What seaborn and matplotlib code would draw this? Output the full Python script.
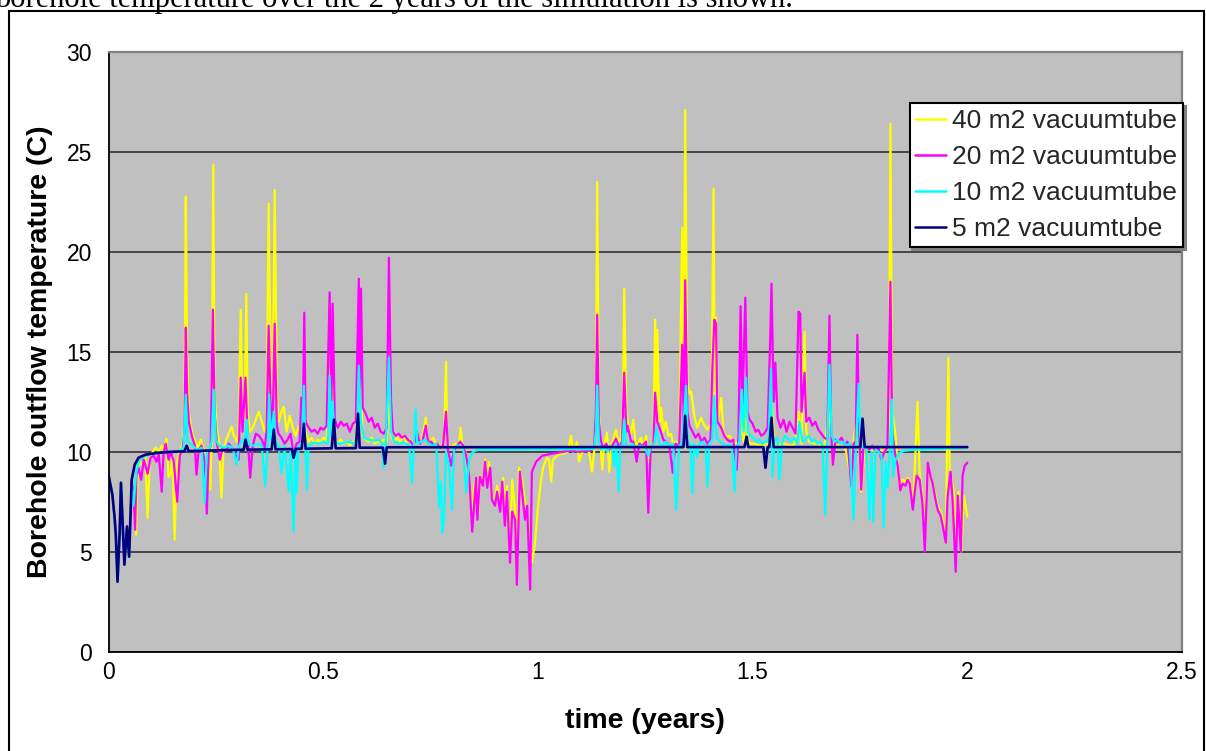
import matplotlib
matplotlib.use("Agg")
import matplotlib.pyplot as plt
from matplotlib.patches import Rectangle
import seaborn as sns

# ---------------- data ----------------
labels = ["40 m2 vacuumtube", "20 m2 vacuumtube", "10 m2 vacuumtube", "5 m2 vacuumtube"]
colors = ["#FFFF00", "#FF00FF", "#00FFFF", "#000080"]
x_ticks = [0, 0.5, 1, 1.5, 2, 2.5]
x_ticklabels = ["0", "0.5", "1", "1.5", "2", "2.5"]
y_ticks = [0, 5, 10, 15, 20, 25, 30]

# 40 m2 vacuumtube (yellow)
t40 = [0.000, 0.009, 0.014, 0.017, 0.021, 0.026, 0.029, 0.037, 0.043, 0.048,
       0.054, 0.058, 0.064, 0.068, 0.072, 0.079, 0.086, 0.091, 0.096, 0.103,
       0.110, 0.117, 0.124, 0.128, 0.135, 0.140, 0.145, 0.149, 0.154, 0.159,
       0.166, 0.173, 0.177, 0.180, 0.183, 0.187, 0.194, 0.201, 0.208, 0.215,
       0.222, 0.229, 0.237, 0.240, 0.244, 0.247, 0.252, 0.257, 0.263, 0.268,
       0.273, 0.278, 0.282, 0.287, 0.292, 0.299, 0.303, 0.308, 0.312, 0.317,
       0.321, 0.324, 0.329, 0.336, 0.343, 0.350, 0.357, 0.364, 0.368, 0.373,
       0.378, 0.382, 0.387, 0.392, 0.396, 0.403, 0.408, 0.415, 0.422, 0.429,
       0.436, 0.443, 0.450, 0.456, 0.459, 0.466, 0.473, 0.480, 0.487, 0.494,
       0.501, 0.508, 0.515, 0.519, 0.522, 0.527, 0.534, 0.541, 0.548, 0.555,
       0.562, 0.569, 0.576, 0.583, 0.588, 0.592, 0.599, 0.606, 0.613, 0.620,
       0.627, 0.634, 0.641, 0.648, 0.653, 0.658, 0.665, 0.672, 0.679, 0.686,
       0.693, 0.700, 0.707, 0.714, 0.721, 0.728, 0.735, 0.739, 0.743, 0.749,
       0.756, 0.763, 0.770, 0.777, 0.782, 0.786, 0.789, 0.795, 0.802, 0.809,
       0.816, 0.820, 0.824, 0.830, 0.835, 0.840, 0.847, 0.851, 0.856, 0.861,
       0.865, 0.872, 0.877, 0.882, 0.886, 0.893, 0.900, 0.905, 0.912, 0.919,
       0.923, 0.928, 0.935, 0.940, 0.947, 0.951, 0.956, 0.963, 0.970, 0.975,
       0.982, 0.986, 0.993, 1.000, 1.007, 1.012, 1.017, 1.021, 1.026, 1.031,
       1.035, 1.042, 1.049, 1.061, 1.070, 1.077, 1.082, 1.091, 1.096, 1.103,
       1.112, 1.119, 1.126, 1.131, 1.135, 1.138, 1.142, 1.147, 1.150, 1.154,
       1.161, 1.166, 1.171, 1.175, 1.182, 1.187, 1.193, 1.198, 1.201, 1.206,
       1.209, 1.217, 1.222, 1.227, 1.231, 1.240, 1.245, 1.252, 1.257, 1.263,
       1.269, 1.273, 1.276, 1.278, 1.283, 1.287, 1.292, 1.298, 1.304, 1.310,
       1.315, 1.322, 1.329, 1.336, 1.340, 1.343, 1.348, 1.353, 1.357, 1.364,
       1.371, 1.380, 1.388, 1.395, 1.399, 1.404, 1.409, 1.412, 1.415, 1.419,
       1.427, 1.432, 1.439, 1.446, 1.453, 1.460, 1.467, 1.472, 1.479, 1.483,
       1.488, 1.495, 1.504, 1.516, 1.527, 1.539, 1.544, 1.551, 1.562, 1.574,
       1.586, 1.597, 1.607, 1.614, 1.621, 1.625, 1.632, 1.644, 1.656, 1.667,
       1.679, 1.686, 1.702, 1.716, 1.727, 1.733, 1.744, 1.753, 1.761, 1.772,
       1.784, 1.796, 1.807, 1.817, 1.821, 1.825, 1.832, 1.838, 1.844, 1.849,
       1.856, 1.861, 1.866, 1.873, 1.877, 1.884, 1.889, 1.896, 1.901, 1.908,
       1.915, 1.919, 1.926, 1.931, 1.938, 1.943, 1.950, 1.956, 1.959, 1.968,
       1.975, 1.980, 1.986, 1.992, 2.000]
v40 = [8.85, 7.85, 6.75, 5.9, 3.6, 6.0, 8.4, 4.4, 6.3, 4.8,
       8.6, 7.5, 5.85, 9.0, 9.5, 9.3, 9.7, 6.7, 9.6, 10.0,
       10.2, 10.0, 10.3, 10.0, 10.65, 8.75, 8.9, 9.8, 5.6, 9.5,
       10.0, 10.4, 11.5, 22.75, 15.0, 12.0, 11.0, 10.6, 10.2, 10.6,
       10.1, 9.8, 8.1, 10.5, 24.35, 13.0, 11.2, 10.6, 7.7, 10.2,
       10.5, 10.8, 11.0, 11.25, 10.8, 10.5, 11.0, 17.1, 11.5, 11.8,
       17.9, 12.0, 11.0, 11.2, 11.6, 12.0, 11.5, 11.0, 11.5, 22.4,
       14.0, 12.5, 23.1, 13.0, 11.5, 12.0, 12.25, 11.0, 11.8, 11.2,
       10.8, 11.3, 10.6, 12.0, 11.0, 10.5, 10.7, 10.4, 10.6, 10.5,
       10.7, 10.5, 15.0, 11.0, 13.5, 10.6, 10.4, 10.6, 10.4, 10.5,
       10.3, 10.5, 10.4, 14.0, 13.0, 10.8, 10.6, 10.5, 10.7, 10.4,
       10.5, 10.45, 10.6, 10.5, 13.0, 10.8, 10.5, 10.7, 10.5, 10.8,
       10.5, 10.6, 10.5, 10.4, 10.6, 10.5, 11.2, 11.7, 10.6, 10.5,
       10.7, 10.4, 10.3, 10.3, 11.0, 14.5, 10.5, 10.2, 10.3, 10.4,
       10.3, 11.2, 10.3, 10.2, 9.3, 8.9, 6.5, 8.2, 8.7, 7.0,
       8.8, 8.4, 9.6, 8.4, 9.5, 7.8, 7.6, 8.3, 7.4, 8.7,
       6.8, 8.3, 5.0, 8.6, 7.0, 4.0, 9.2, 8.6, 7.5, 7.0,
       5.5, 4.45, 5.4, 7.2, 8.5, 9.2, 9.5, 9.7, 9.6, 8.5,
       9.6, 9.75, 9.85, 9.9, 10.0, 10.8, 10.0, 10.5, 9.5, 10.0,
       10.05, 10.0, 9.0, 10.0, 12.0, 23.5, 12.0, 10.0, 9.1, 10.3,
       10.95, 9.0, 10.4, 10.6, 11.1, 10.5, 10.65, 12.0, 18.15, 12.0,
       11.5, 10.9, 11.6, 10.5, 10.3, 10.7, 10.2, 10.8, 9.5, 10.3,
       10.5, 16.6, 12.0, 16.1, 11.5, 12.2, 11.0, 11.5, 10.8, 10.9,
       10.4, 10.5, 10.4, 21.2, 12.0, 27.1, 13.5, 12.9, 13.0, 11.8,
       11.2, 11.7, 11.3, 11.1, 11.3, 11.0, 23.15, 12.0, 16.7, 11.5,
       12.7, 11.0, 10.7, 10.8, 10.6, 10.4, 10.5, 12.0, 10.5, 12.5,
       10.6, 10.4, 10.4, 10.3, 10.35, 10.4, 12.5, 10.3, 10.35, 10.4,
       10.3, 10.35, 12.0, 10.4, 16.0, 11.0, 10.5, 10.4, 10.35, 10.3,
       12.0, 10.3, 10.3, 10.2, 8.95, 10.2, 12.0, 8.0, 10.2, 10.1,
       10.0, 10.1, 10.0, 10.2, 26.4, 12.0, 11.0, 9.3, 8.1, 8.6,
       8.5, 8.7, 8.5, 7.5, 8.8, 12.5, 9.0, 7.5, 6.5, 9.4,
       8.6, 8.5, 7.8, 7.3, 7.0, 6.6, 6.0, 14.7, 9.1, 8.1,
       5.5, 8.0, 5.0, 7.8, 6.75]

# 20 m2 vacuumtube (magenta)
t20 = [0.000, 0.009, 0.014, 0.017, 0.021, 0.026, 0.029, 0.037, 0.043, 0.048,
       0.054, 0.058, 0.062, 0.065, 0.070, 0.076, 0.082, 0.086, 0.091, 0.098,
       0.105, 0.112, 0.117, 0.124, 0.128, 0.133, 0.140, 0.145, 0.152, 0.160,
       0.166, 0.173, 0.177, 0.180, 0.183, 0.187, 0.194, 0.201, 0.205, 0.210,
       0.217, 0.224, 0.229, 0.233, 0.238, 0.243, 0.247, 0.252, 0.259, 0.266,
       0.273, 0.280, 0.287, 0.294, 0.303, 0.308, 0.312, 0.319, 0.324, 0.330,
       0.336, 0.343, 0.350, 0.357, 0.364, 0.368, 0.373, 0.378, 0.382, 0.387,
       0.392, 0.396, 0.403, 0.410, 0.417, 0.424, 0.431, 0.438, 0.445, 0.449,
       0.452, 0.456, 0.459, 0.466, 0.473, 0.480, 0.487, 0.494, 0.501, 0.508,
       0.515, 0.519, 0.522, 0.527, 0.534, 0.541, 0.548, 0.555, 0.562, 0.569,
       0.576, 0.583, 0.585, 0.588, 0.592, 0.599, 0.606, 0.613, 0.620, 0.627,
       0.634, 0.641, 0.648, 0.653, 0.658, 0.662, 0.669, 0.676, 0.683, 0.690,
       0.697, 0.704, 0.711, 0.718, 0.725, 0.732, 0.739, 0.744, 0.751, 0.758,
       0.765, 0.772, 0.779, 0.786, 0.791, 0.798, 0.805, 0.812, 0.819, 0.826,
       0.833, 0.840, 0.847, 0.856, 0.859, 0.865, 0.872, 0.877, 0.882, 0.889,
       0.893, 0.900, 0.905, 0.912, 0.917, 0.923, 0.928, 0.935, 0.940, 0.947,
       0.951, 0.958, 0.963, 0.970, 0.975, 0.982, 0.986, 0.996, 1.010, 1.033,
       1.073, 1.096, 1.119, 1.126, 1.131, 1.135, 1.138, 1.142, 1.147, 1.152,
       1.159, 1.166, 1.173, 1.182, 1.189, 1.196, 1.201, 1.206, 1.209, 1.217,
       1.222, 1.230, 1.236, 1.243, 1.252, 1.257, 1.263, 1.269, 1.273, 1.278,
       1.287, 1.292, 1.298, 1.306, 1.314, 1.320, 1.329, 1.336, 1.340, 1.343,
       1.348, 1.353, 1.360, 1.367, 1.374, 1.381, 1.388, 1.395, 1.402, 1.406,
       1.411, 1.415, 1.418, 1.427, 1.434, 1.441, 1.448, 1.455, 1.463, 1.467,
       1.472, 1.476, 1.483, 1.488, 1.493, 1.500, 1.507, 1.513, 1.520, 1.527,
       1.535, 1.541, 1.544, 1.549, 1.553, 1.558, 1.565, 1.572, 1.579, 1.586,
       1.593, 1.600, 1.607, 1.611, 1.614, 1.621, 1.625, 1.632, 1.639, 1.646,
       1.653, 1.660, 1.667, 1.674, 1.679, 1.683, 1.687, 1.693, 1.700, 1.707,
       1.714, 1.721, 1.730, 1.735, 1.740, 1.744, 1.748, 1.753, 1.758, 1.765,
       1.772, 1.779, 1.786, 1.793, 1.800, 1.807, 1.814, 1.821, 1.825, 1.831,
       1.838, 1.844, 1.849, 1.856, 1.861, 1.866, 1.873, 1.882, 1.889, 1.896,
       1.901, 1.908, 1.915, 1.919, 1.926, 1.931, 1.938, 1.943, 1.950, 1.954,
       1.961, 1.966, 1.973, 1.978, 1.985, 1.989, 1.994, 2.000]
v20 = [8.85, 7.85, 6.75, 5.9, 3.6, 6.0, 8.4, 4.4, 6.3, 4.8,
       8.5, 8.0, 6.1, 8.8, 9.2, 8.6, 9.6, 9.3, 8.9, 9.7,
       9.8, 9.5, 9.9, 8.0, 9.9, 10.4, 9.6, 10.0, 9.5, 7.5,
       9.8, 10.2, 11.0, 16.2, 13.0, 11.5, 10.8, 10.3, 8.85, 10.1,
       10.3, 9.5, 6.9, 10.0, 10.3, 17.1, 12.0, 10.5, 9.6, 10.2,
       10.0, 10.4, 10.2, 9.9, 9.6, 13.7, 11.0, 13.7, 10.8, 8.7,
       10.3, 10.9, 10.8, 10.6, 10.2, 11.0, 16.3, 12.0, 11.0, 16.4,
       11.3, 10.9, 10.7, 10.4, 10.6, 10.9, 9.9, 10.4, 10.5, 12.7,
       10.5, 16.95, 11.5, 11.2, 11.0, 11.1, 10.9, 11.2, 11.1, 11.3,
       17.97, 12.0, 17.4, 11.6, 11.2, 11.5, 11.3, 11.4, 11.0, 11.4,
       11.5, 18.65, 12.5, 18.15, 12.2, 11.9, 11.5, 11.7, 11.2, 11.4,
       11.0, 10.9, 11.2, 19.7, 12.5, 11.0, 10.8, 10.9, 10.7, 10.8,
       10.6, 10.5, 10.3, 11.0, 10.4, 10.6, 11.3, 10.5, 10.5, 10.3,
       10.4, 10.2, 10.3, 12.0, 10.0, 9.3, 10.1, 10.3, 10.5, 10.3,
       9.8, 8.8, 6.0, 8.7, 6.6, 8.75, 8.3, 9.5, 8.2, 9.2,
       7.6, 7.3, 8.0, 7.0, 8.5, 6.3, 8.0, 4.45, 7.0, 6.6,
       3.35, 9.0, 8.0, 6.6, 7.3, 3.1, 9.0, 9.5, 9.8, 9.9,
       10.05, 10.0, 10.05, 10.1, 10.3, 12.0, 16.85, 11.5, 10.5, 10.2,
       10.4, 10.1, 10.3, 10.65, 10.2, 10.5, 13.95, 11.0, 11.3, 10.5,
       10.5, 9.5, 10.4, 10.3, 10.5, 6.95, 10.25, 10.4, 12.95, 11.5,
       10.95, 10.6, 10.5, 10.3, 8.95, 10.4, 10.3, 15.35, 11.0, 18.57,
       12.0, 11.3, 11.0, 10.7, 10.9, 10.5, 10.7, 10.4, 10.6, 14.0,
       16.6, 16.4, 11.5, 11.2, 10.8, 10.6, 10.5, 10.6, 9.1, 10.8,
       17.27, 12.0, 17.7, 12.0, 11.6, 11.4, 11.0, 11.1, 10.8, 10.9,
       11.2, 15.6, 18.4, 12.5, 14.45, 11.7, 11.2, 11.6, 11.0, 11.5,
       11.2, 10.9, 17.0, 16.9, 12.0, 13.95, 11.5, 11.7, 11.3, 11.5,
       11.1, 10.9, 10.7, 10.6, 16.8, 11.0, 9.35, 10.6, 10.5, 10.7,
       10.4, 10.5, 8.27, 10.4, 10.5, 15.85, 11.0, 8.1, 10.2, 10.3,
       10.1, 10.3, 10.0, 10.2, 9.6, 10.0, 10.2, 18.5, 11.0, 10.0,
       9.3, 8.07, 8.4, 8.3, 8.6, 8.4, 7.1, 8.8, 8.6, 7.3,
       5.0, 9.45, 8.7, 8.45, 7.6, 7.1, 6.8, 6.27, 5.45, 7.7,
       9.0, 7.5, 4.0, 7.8, 5.0, 8.8, 9.3, 9.45]

# 10 m2 vacuumtube (cyan)
t10 = [0.000, 0.009, 0.014, 0.017, 0.021, 0.026, 0.029, 0.037, 0.043, 0.048,
       0.054, 0.058, 0.065, 0.072, 0.082, 0.093, 0.117, 0.140, 0.163, 0.175,
       0.180, 0.184, 0.191, 0.201, 0.210, 0.217, 0.224, 0.229, 0.236, 0.240,
       0.245, 0.250, 0.257, 0.268, 0.280, 0.289, 0.299, 0.303, 0.310, 0.317,
       0.322, 0.326, 0.338, 0.350, 0.357, 0.365, 0.371, 0.374, 0.378, 0.385,
       0.389, 0.396, 0.403, 0.410, 0.420, 0.424, 0.431, 0.435, 0.438, 0.443,
       0.450, 0.455, 0.458, 0.462, 0.466, 0.478, 0.490, 0.501, 0.511, 0.515,
       0.519, 0.522, 0.527, 0.536, 0.548, 0.560, 0.571, 0.578, 0.583, 0.588,
       0.595, 0.606, 0.618, 0.630, 0.637, 0.641, 0.646, 0.653, 0.658, 0.665,
       0.676, 0.688, 0.700, 0.707, 0.711, 0.715, 0.719, 0.728, 0.737, 0.746,
       0.756, 0.763, 0.770, 0.774, 0.777, 0.781, 0.786, 0.793, 0.800, 0.805,
       0.812, 0.819, 0.826, 0.833, 0.840, 0.847, 0.854, 0.863, 1.049, 1.119,
       1.131, 1.135, 1.138, 1.142, 1.147, 1.154, 1.161, 1.168, 1.173, 1.178,
       1.182, 1.188, 1.192, 1.196, 1.201, 1.206, 1.213, 1.220, 1.227, 1.236,
       1.248, 1.257, 1.264, 1.271, 1.276, 1.283, 1.290, 1.297, 1.306, 1.315,
       1.322, 1.329, 1.336, 1.345, 1.349, 1.355, 1.360, 1.364, 1.371,
       1.376, 1.383, 1.390, 1.395, 1.399, 1.406, 1.411, 1.416, 1.423, 1.430,
       1.437, 1.444, 1.451, 1.458, 1.462, 1.469, 1.475, 1.479, 1.485, 1.489,
       1.495, 1.502, 1.509, 1.516, 1.523, 1.530, 1.537, 1.543, 1.546, 1.551,
       1.558, 1.562, 1.569, 1.576, 1.583, 1.590, 1.597, 1.604, 1.609, 1.616,
       1.623, 1.630, 1.637, 1.644, 1.651, 1.658, 1.663, 1.669, 1.674, 1.679,
       1.684, 1.691, 1.698, 1.705, 1.712, 1.719, 1.726, 1.735, 1.741, 1.747,
       1.751, 1.758, 1.765, 1.772, 1.777, 1.781, 1.786, 1.793, 1.800, 1.805,
       1.810, 1.814, 1.819, 1.824, 1.827, 1.833, 1.842, 1.854, 1.877, 1.936,
       2.000]
v10 = [8.85, 7.85, 6.75, 5.85, 3.5, 5.95, 8.45, 4.35, 6.25, 4.75,
       8.4, 7.3, 9.0, 9.6, 9.75, 9.85, 9.95, 10.0, 10.0, 10.2,
       12.85, 10.5, 10.4, 10.2, 10.1, 10.2, 7.45, 10.0, 10.2, 10.5,
       13.1, 10.6, 10.3, 10.2, 10.3, 10.2, 9.35, 10.2, 10.6, 10.4,
       11.6, 10.4, 10.3, 10.4, 10.3, 8.27, 10.4, 12.85, 10.6, 12.0,
       10.5, 10.3, 8.95, 10.3, 8.0, 10.2, 6.0, 10.1, 7.95, 10.3,
       10.4, 13.3, 10.5, 8.1, 10.3, 10.45, 10.4, 10.5, 10.4, 13.8,
       10.8, 12.5, 10.5, 10.4, 10.45, 10.5, 10.4, 10.6, 14.3, 11.5,
       10.7, 10.6, 10.55, 10.6, 10.4, 9.2, 10.5, 14.7, 11.0, 10.5,
       10.4, 10.45, 10.3, 8.45, 10.3, 12.1, 10.4, 10.5, 10.6, 10.4,
       10.3, 10.4, 7.25, 8.5, 5.95, 6.5, 10.0, 9.3, 7.1, 10.2,
       10.3, 10.3, 10.2, 7.95, 9.6, 9.95, 10.05, 10.1, 10.12, 10.12,
       10.15, 11.0, 13.3, 10.5, 10.1, 10.2, 10.0, 10.3, 10.1, 9.27,
       10.4, 8.0, 10.3, 10.2, 11.6, 10.3, 10.2, 10.4, 10.2, 10.3,
       10.25, 9.8, 10.3, 10.4, 11.2, 10.4, 10.3, 10.5, 10.3, 10.4,
       7.1, 10.3, 10.4, 13.3, 10.5, 10.35, 7.95, 10.4, 9.75,
       10.4, 10.5, 10.3, 8.25, 10.4, 10.6, 12.8, 10.7, 10.5, 10.4,
       10.3, 10.35, 10.3, 8.0, 10.2, 10.5, 13.1, 11.0, 13.7, 11.0,
       10.8, 10.7, 10.5, 10.6, 10.4, 10.5, 10.6, 14.15, 8.75, 10.6,
       10.7, 8.6, 10.5, 10.8, 10.6, 10.5, 10.7, 10.4, 11.5, 10.5,
       10.6, 10.8, 10.5, 10.6, 10.4, 10.5, 10.3, 6.85, 10.5, 14.35,
       10.8, 10.5, 10.6, 10.4, 10.5, 10.3, 10.4, 6.6, 10.3, 13.4,
       10.4, 10.2, 10.3, 6.6, 10.0, 6.5, 10.1, 10.0, 9.8, 6.2,
       9.5, 8.2, 9.8, 12.6, 8.75, 9.6, 9.95, 10.05, 10.1, 10.15,
       10.2]

# 5 m2 vacuumtube (navy)
t5 = [0.000, 0.009, 0.014, 0.017, 0.021, 0.026, 0.029, 0.037, 0.043, 0.048,
      0.054, 0.061, 0.070, 0.086, 0.117, 0.152, 0.177, 0.182, 0.187, 0.273,
      0.315, 0.319, 0.324, 0.380, 0.385, 0.389, 0.427, 0.431, 0.436, 0.450,
      0.455, 0.459, 0.520, 0.525, 0.529, 0.576, 0.581, 0.585, 0.639, 0.644,
      0.648, 1.143, 1.339, 1.343, 1.348, 1.481, 1.486, 1.490, 1.525, 1.530,
      1.535, 1.539, 1.544, 1.549, 1.751, 1.756, 1.761, 2.000]
v5 = [8.85, 7.85, 6.75, 5.85, 3.5, 5.95, 8.45, 4.35, 6.25, 4.75,
      8.6, 9.35, 9.7, 9.85, 9.95, 10.0, 10.02, 10.3, 10.03, 10.08,
      10.1, 10.6, 10.1, 10.12, 11.1, 10.12, 10.13, 9.7, 10.14, 10.15,
      11.4, 10.15, 10.17, 11.6, 10.17, 10.18, 11.9, 10.2, 10.2, 9.4,
      10.22, 10.23, 10.23, 11.8, 10.23, 10.23, 10.75, 10.23, 10.23, 9.2,
      10.23, 10.23, 11.7, 10.23, 10.23, 11.65, 10.23, 10.23]

series_t = [t40, t20, t10, t5]
series_v = [v40, v20, v10, v5]

# ---------------- figure ----------------
W, H = 1206, 751
sns.set_theme(style="white")
plt.rcParams["font.family"] = ["Liberation Sans", "DejaVu Sans"]

fig = plt.figure(figsize=(W / 100, H / 100), dpi=100)
fig.patch.set_facecolor("white")
ax = fig.add_axes([108.5 / W, 1 - 651.7 / H, (1182 - 108.5) / W, 600 / H])
ax.set_facecolor("#C0C0C0")

for t, v, lab, col in zip(series_t, series_v, labels, colors):
    lw = 1.9 if col == "#000080" else 1.6
    sns.lineplot(x=t, y=v, ax=ax, color=col, linewidth=lw, label=lab,
                 estimator=None, sort=False)

ax.set_xlim(0, 2.5)
ax.set_ylim(0, 30)
ax.set_xticks(x_ticks)
ax.set_xticklabels(x_ticklabels)
ax.set_yticks(y_ticks)
ax.set_axisbelow(True)
ax.yaxis.grid(True, color="#3c3c3c", linewidth=1.3)
ax.xaxis.grid(False)

for side in ("left", "bottom"):
    ax.spines[side].set_color("black")
    ax.spines[side].set_linewidth(1.3)
for side in ("top", "right"):
    ax.spines[side].set_color("#808080")
    ax.spines[side].set_linewidth(1.6)

ax.tick_params(axis="both", which="major", direction="out", length=5, width=1.2,
               color="black", labelsize=16.5, labelcolor="black")
ax.tick_params(axis="y", pad=7)
ax.tick_params(axis="x", pad=2)

ax.set_xlabel("time (years)", fontsize=20.5, fontweight="bold", color="black")
ax.set_ylabel("Borehole outflow temperature (C)", fontsize=20.5, fontweight="bold",
              color="black")
ax.xaxis.set_label_coords(0.5, (651.7 - 708) / 600)
ax.yaxis.set_label_coords((53 - 108.5) / 1073.5, 0.5)

leg = ax.legend(loc="upper right", bbox_to_anchor=(1.001, (651.7 - 103) / 600),
                fontsize=19, frameon=True, fancybox=False,
                shadow={"color": "#808080", "alpha": 1.0},
                edgecolor="black", facecolor="white", framealpha=1,
                borderaxespad=0, handlelength=1.17, handletextpad=0.23,
                labelspacing=0.46, borderpad=0.22)
leg.get_frame().set_linewidth(1.5)
for line in leg.get_lines():
    line.set_linewidth(1.8)

# page context: document text above the chart and the chart's outer border
fig.text(-5 / W, 1 - 6.5 / H,
         "borehole temperature over the 2 years of the simulation is shown.",
         family=["Liberation Serif", "DejaVu Serif"], fontsize=22,
         va="baseline", ha="left", color="black")
fig.patches.append(Rectangle((8.5 / W, -0.05), (1204 - 8.5) / W, 1.05 - 11 / H,
                             transform=fig.transFigure, fill=False,
                             edgecolor="black", linewidth=1.5))

fig.savefig("out.png", dpi=100, facecolor="white")
